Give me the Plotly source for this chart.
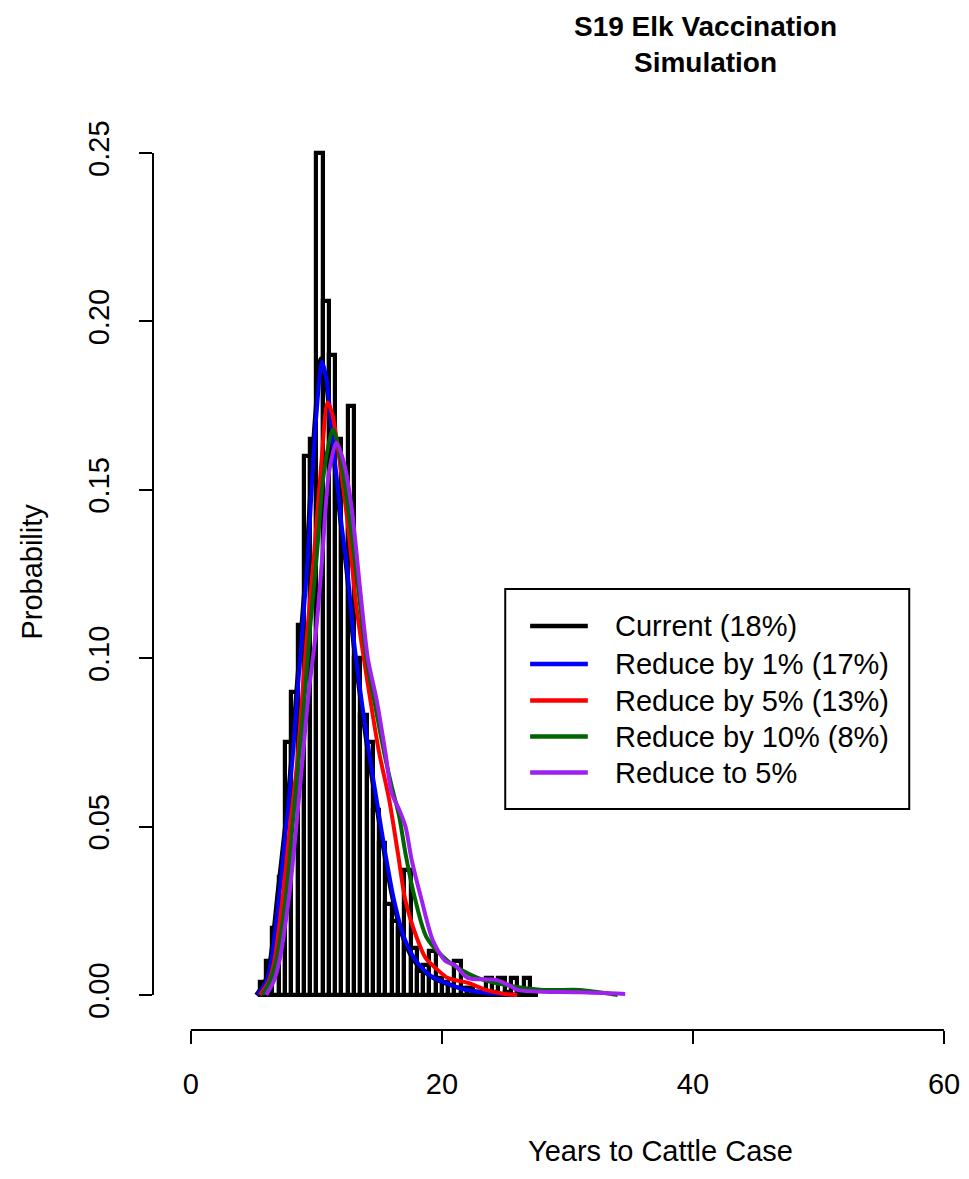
import plotly.graph_objects as go

# ---------------- data ----------------
bin_width = 0.5
bin_left = [5.5 + 0.5 * i for i in range(44)]  # 5.5 ... 27.0
hist_density = [0.004, 0.010, 0.020, 0.035, 0.075, 0.090, 0.110, 0.160, 0.165, 0.250,
                0.206, 0.190, 0.165, 0.150, 0.175, 0.100, 0.083, 0.075, 0.055, 0.045,
                0.027, 0.022, 0.020, 0.037, 0.014, 0.007, 0.009, 0.013, 0.005, 0.004,
                0.003, 0.010, 0.002, 0.002, 0.001, 0.001, 0.005, 0.001, 0.005, 0.001,
                0.005, 0.001, 0.005, 0.001]

series_names = ["Current (18%)", "Reduce by 1% (17%)", "Reduce by 5% (13%)",
                "Reduce by 10% (8%)", "Reduce to 5%"]
series_colors = ["#000000", "#0000FF", "#FF0000", "#006400", "#A020F0"]

current_x = [5.2, 5.9, 6.3, 6.9, 7.5, 8.0, 8.4, 8.8, 9.2, 9.6, 9.9, 10.35, 10.7, 11.2, 11.9,
             12.4, 12.9, 13.5, 14.1, 14.7, 15.4, 16.1, 16.9, 17.8, 18.9, 20.2, 22.0, 24.0, 26.0]
current_y = [0.0, 0.004, 0.010, 0.030, 0.050, 0.070, 0.090, 0.109, 0.129, 0.155, 0.172, 0.189,
             0.184, 0.166, 0.141, 0.126, 0.106, 0.088, 0.072, 0.058, 0.042, 0.028, 0.017,
             0.010, 0.006, 0.0035, 0.0015, 0.0005, 0.0]

blue_x = [5.3, 6.0, 6.4, 7.05, 7.6, 8.1, 8.5, 8.9, 9.3, 9.7, 10.0, 10.45, 10.8, 11.3, 12.0,
          12.5, 13.0, 13.6, 14.2, 14.8, 15.5, 16.2, 17.0, 17.9, 19.0, 20.3, 22.0, 24.0, 26.0]
blue_y = [0.0, 0.004, 0.010, 0.030, 0.050, 0.070, 0.090, 0.109, 0.129, 0.155, 0.172, 0.188,
          0.183, 0.165, 0.140, 0.125, 0.105, 0.0876, 0.072, 0.058, 0.042, 0.028, 0.017,
          0.0104, 0.006, 0.0036, 0.0015, 0.0005, 0.0]

red_x = [5.5, 6.2, 6.65, 7.35, 7.9, 8.5, 8.9, 9.3, 9.8, 10.4, 10.9, 11.3, 11.8, 12.5, 13.2,
         14.3, 15.0, 15.8, 16.5, 17.1, 18.0, 18.7, 19.5, 20.5, 22.1, 23.5, 25.0, 26.0]
red_y = [0.0, 0.004, 0.010, 0.030, 0.050, 0.070, 0.090, 0.109, 0.130, 0.158, 0.176, 0.172,
         0.160, 0.140, 0.115, 0.0876, 0.072, 0.058, 0.042, 0.028, 0.017, 0.011, 0.008,
         0.005, 0.0036, 0.0015, 0.0003, 0.0]

green_x = [5.7, 6.3, 6.8, 7.6, 8.1, 8.6, 9.1, 9.5, 10.0, 10.6, 11.3, 11.8, 12.4, 13.2, 14.0,
           14.6, 15.4, 16.0, 16.6, 17.1, 17.9, 18.8, 20.5, 22.7, 25.0, 28.0, 31.0, 33.5, 34.0]
green_y = [0.0, 0.004, 0.010, 0.030, 0.050, 0.070, 0.090, 0.109, 0.129, 0.155, 0.168, 0.162,
           0.148, 0.125, 0.100, 0.0876, 0.072, 0.062, 0.053, 0.042, 0.028, 0.017, 0.010,
           0.0053, 0.003, 0.0015, 0.0015, 0.0003, 0.0]

purple_x = [6.0, 6.6, 7.05, 7.85, 8.4, 8.9, 9.4, 10.0, 10.45, 11.0, 11.6, 12.2, 12.8, 13.5,
            14.1, 14.8, 15.5, 16.0, 16.6, 17.1, 17.6, 18.4, 19.3, 20.3, 21.0, 21.5, 22.1,
            24.3, 25.3, 26.0, 28.0, 31.0, 34.6]
purple_y = [0.0, 0.004, 0.010, 0.030, 0.050, 0.070, 0.090, 0.109, 0.129, 0.155, 0.164, 0.158,
            0.145, 0.120, 0.100, 0.0876, 0.072, 0.060, 0.055, 0.050, 0.040, 0.028, 0.016,
            0.010, 0.009, 0.007, 0.005, 0.0045, 0.003, 0.0015, 0.001, 0.0008, 0.0003]

curves_x = [current_x, blue_x, red_x, green_x, purple_x]
curves_y = [current_y, blue_y, red_y, green_y, purple_y]

x_ticks = [0, 20, 40, 60]
y_ticks = [0.00, 0.05, 0.10, 0.15, 0.20, 0.25]
y_tick_text = ["0.00", "0.05", "0.10", "0.15", "0.20", "0.25"]

title_text = "S19 Elk Vaccination<br>Simulation"
x_title = "Years to Cattle Case"
y_title = "Probability"

# ---------------- figure ----------------
FONT = "Liberation Sans, Arial, Helvetica, sans-serif"
OFF = 8                      # default page body margin
W, H = 969 - OFF, 1179 - OFF
ML = 153 - OFF
MT = 140 - OFF
PR = 960 - OFF               # right edge of plot area (figure px)
PB = 1030 - OFF              # bottom edge of plot area (figure px)
MR, MB = W - PR, H - PB
PW, PH = PR - ML, PB - MT

# reference-page pixel anchors of the data scale
px_per_x = (948 - 191) / 60.0
px_per_y = (995 - 153) / 0.25
x_lo = (153 - 191) / px_per_x
x_hi = (960 - 191) / px_per_x
y_lo = (995 - 1030) / px_per_y
y_hi = (995 - 140) / px_per_y

fig = go.Figure()

fig.add_trace(go.Bar(
    x=[b + bin_width / 2 for b in bin_left], y=hist_density, width=bin_width,
    marker=dict(color="white", line=dict(color="black", width=4.2)),
    showlegend=False, hoverinfo="skip"))

for name, col, xs, ys in zip(series_names, series_colors, curves_x, curves_y):
    fig.add_trace(go.Scatter(
        x=xs, y=ys, mode="lines", name=name,
        line=dict(color=col, width=4, shape="spline", smoothing=0.8),
        showlegend=False))

fig.update_layout(
    width=W, height=H,
    margin=dict(l=ML, r=MR, t=MT, b=MB, pad=0),
    paper_bgcolor="white", plot_bgcolor="white",
    font=dict(family=FONT, size=29, color="black"),
    bargap=0,
    xaxis=dict(range=[x_lo, x_hi], showgrid=False, zeroline=False, showline=False,
               tickmode="array", tickvals=x_ticks, ticks="outside", ticklen=13,
               tickwidth=2, tickcolor="black", ticklabelstandoff=15,
               tickfont=dict(size=29)),
    yaxis=dict(range=[y_lo, y_hi], showgrid=False, zeroline=False, showline=False,
               tickmode="array", tickvals=y_ticks, ticktext=y_tick_text, ticks="outside",
               ticklen=13, tickwidth=2, tickcolor="black", tickangle=-90,
               ticklabelstandoff=18, tickfont=dict(size=29)),
)

# detached R-style axis lines
fig.add_shape(type="line", xref="paper", yref="y", x0=0, x1=0, y0=y_ticks[0], y1=y_ticks[-1],
              line=dict(color="black", width=2))
fig.add_shape(type="line", xref="x", yref="paper", x0=x_ticks[0], x1=x_ticks[-1], y0=0, y1=0,
              line=dict(color="black", width=2))

def px_x(p):
    return (p - OFF - ML) / PW

def px_y(p):
    return (PB - (p - OFF)) / PH

# titles
fig.add_annotation(text="<b>" + title_text.replace("<br>", "</b><br><b>") + "</b>",
                   xref="paper", yref="paper", x=px_x(708), y=px_y(9),
                   xanchor="center", yanchor="top", showarrow=False,
                   font=dict(size=28, family=FONT))
fig.add_annotation(text=x_title, xref="paper", yref="paper", x=px_x(663), y=px_y(1151),
                   xanchor="center", yanchor="middle", showarrow=False, font=dict(size=29))
fig.add_annotation(text=y_title, xref="paper", yref="paper", x=px_x(31), y=px_y(572),
                   xanchor="center", yanchor="middle", showarrow=False, textangle=-90,
                   font=dict(size=29))

# legend box (manual, R style)
fig.add_shape(type="rect", xref="paper", yref="paper",
              x0=px_x(507), x1=px_x(913), y0=px_y(809), y1=px_y(589),
              line=dict(color="black", width=2), fillcolor="white", layer="above")
row_y = [626, 664, 700.5, 736.5, 772.5]
for name, col, ry in zip(series_names, series_colors, row_y):
    fig.add_shape(type="line", xref="paper", yref="paper",
                  x0=px_x(532), x1=px_x(590), y0=px_y(ry), y1=px_y(ry),
                  line=dict(color=col, width=4.5), layer="above")
    fig.add_annotation(text=name, xref="paper", yref="paper", x=px_x(615), y=px_y(ry),
                       xanchor="left", yanchor="middle", showarrow=False,
                       font=dict(size=29))

fig.write_html("out.html")
